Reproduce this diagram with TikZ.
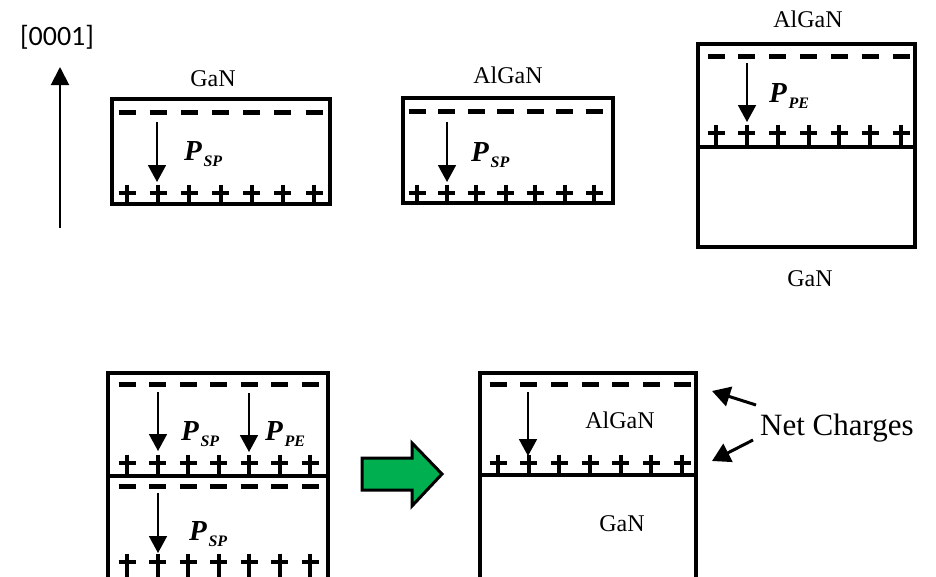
\documentclass[tikz,border=0pt]{standalone}
\usepackage{fontspec}
\setmainfont{Liberation Serif}
\newfontfamily\dirfont{Carlito}
\usetikzlibrary{arrows.meta}
\definecolor{arrowgreen}{HTML}{00B050}
\newcommand{\negrow}[3]{%
  \foreach \i in {0,...,6}{\draw[negch] ({#1+\i*(#2-#1)/6-8.5},#3) -- ++(17,0);}}
\newcommand{\posrow}[4]{%
  \foreach \i in {0,...,6}{\pgfmathsetmacro\chx{#1+\i*(#2-#1)/6}
    \draw[posch] (\chx-8.5,#3) -- (\chx+8.5,#3) (\chx,#3-8.5) -- (\chx,#4);}}
\newcommand{\polar}[1]{\textbf{\textit{P}}\kern1.5pt\raisebox{-6pt}{\fontsize{16}{16}\selectfont\textbf{\textit{#1}}}}
\begin{document}
\begin{tikzpicture}[x=1pt,y=-1pt,
  layer/.style={line width=3.5pt},
  negch/.style={line width=5pt},
  posch/.style={line width=4pt},
  pol/.style={line width=1.8pt,-{Triangle[width=18pt,length=17pt]}},
  lbl/.style={font=\fontsize{24}{24}\selectfont,inner sep=0pt,anchor=base},
  plbl/.style={font=\fontsize{29}{29}\selectfont,inner sep=0pt,anchor=base west},
  pointer/.style={line width=3pt,-{Triangle[width=20pt,length=18pt]}}]
\path[use as bounding box] (0,0) rectangle (936,576);
\clip (0,0) rectangle (936,576);
% growth direction
\node[font=\dirfont\fontsize{28}{28}\selectfont,inner sep=0pt] (dir) at (57,37) {[0001]};
\coordinate (dirtail) at (60,228);
\coordinate (dirhead) at (60,67);
\draw[line width=2pt,-{Triangle[width=18pt,length=18pt]}] (dirtail) -- (dirhead);
% box 1: GaN
\node[lbl] (gan1) at (213,86) {GaN};
\draw[layer] (112,99) rectangle (330,204);
\negrow{127}{314}{112}
\posrow{127}{314}{193}{204}
\coordinate (a1s) at (157,122); \coordinate (a1e) at (157,182);
\draw[pol] (a1s) -- (a1e);
\node[plbl] (p1) at (184,160) {\polar{SP}};
% box 2: AlGaN
\node[lbl] (algan2) at (508,83) {AlGaN};
\draw[layer] (403,98) rectangle (613,203);
\negrow{417}{594}{111}
\posrow{417}{594}{193}{203}
\coordinate (a2s) at (447,122); \coordinate (a2e) at (447,182);
\draw[pol] (a2s) -- (a2e);
\node[plbl] (p2) at (471,161) {\polar{SP}};
% box 3: AlGaN on GaN
\node[lbl] (algan3) at (808,27) {AlGaN};
\node[lbl] (gan3) at (810,286) {GaN};
\draw[layer] (698,44) rectangle (915,247);
\draw[layer] (698,147) -- (915,147);
\negrow{716}{901}{56}
\posrow{716}{901}{133}{147}
\coordinate (a3s) at (747,63); \coordinate (a3e) at (747,122);
\draw[pol] (a3s) -- (a3e);
\node[plbl] (p3) at (769,102) {\polar{PE}};
% box 4: combined
\draw[layer] (108,373) rectangle (328,600);
\draw[layer] (108,476) -- (328,476);
\negrow{127}{310}{384}
\posrow{127}{310}{463}{476}
\negrow{127}{310}{486}
\posrow{127}{310}{562}{600}
\coordinate (a4s) at (158,392); \coordinate (a4e) at (158,451);
\draw[pol] (a4s) -- (a4e);
\coordinate (a5s) at (249,393); \coordinate (a5e) at (249,452);
\draw[pol] (a5s) -- (a5e);
\coordinate (a6s) at (158,493); \coordinate (a6e) at (158,553);
\draw[pol] (a6s) -- (a6e);
\node[plbl] (p4) at (181,440) {\polar{SP}};
\node[plbl] (p5) at (265,440) {\polar{PE}};
\node[plbl] (p6) at (189,540) {\polar{SP}};
% green arrow
\draw[line width=3pt,fill=arrowgreen,line join=miter]
  (362,458) -- (412,458) -- (412,443) -- (442,474) -- (412,506) -- (412,490) -- (362,490) -- cycle;
% box 5: result
\draw[layer] (480,373) rectangle (696,600);
\draw[layer] (480,475) -- (696,475);
\negrow{498}{682}{384}
\posrow{498}{682}{463}{475}
\coordinate (a7s) at (528,392); \coordinate (a7e) at (528,456);
\draw[pol] (a7s) -- (a7e);
\node[lbl] (algan5) at (620,428) {AlGaN};
\node[lbl] (gan5) at (622,531) {GaN};
% net charges
\node[font=\fontsize{31}{31}\selectfont,inner sep=0pt,anchor=base west] (net) at (760,435) {Net Charges};
\coordinate (n1s) at (756,405); \coordinate (n1e) at (712,391);
\coordinate (n2s) at (753,440); \coordinate (n2e) at (712,461);
\draw[pointer] (n1s) -- (n1e);
\draw[pointer] (n2s) -- (n2e);
\end{tikzpicture}
\end{document}
